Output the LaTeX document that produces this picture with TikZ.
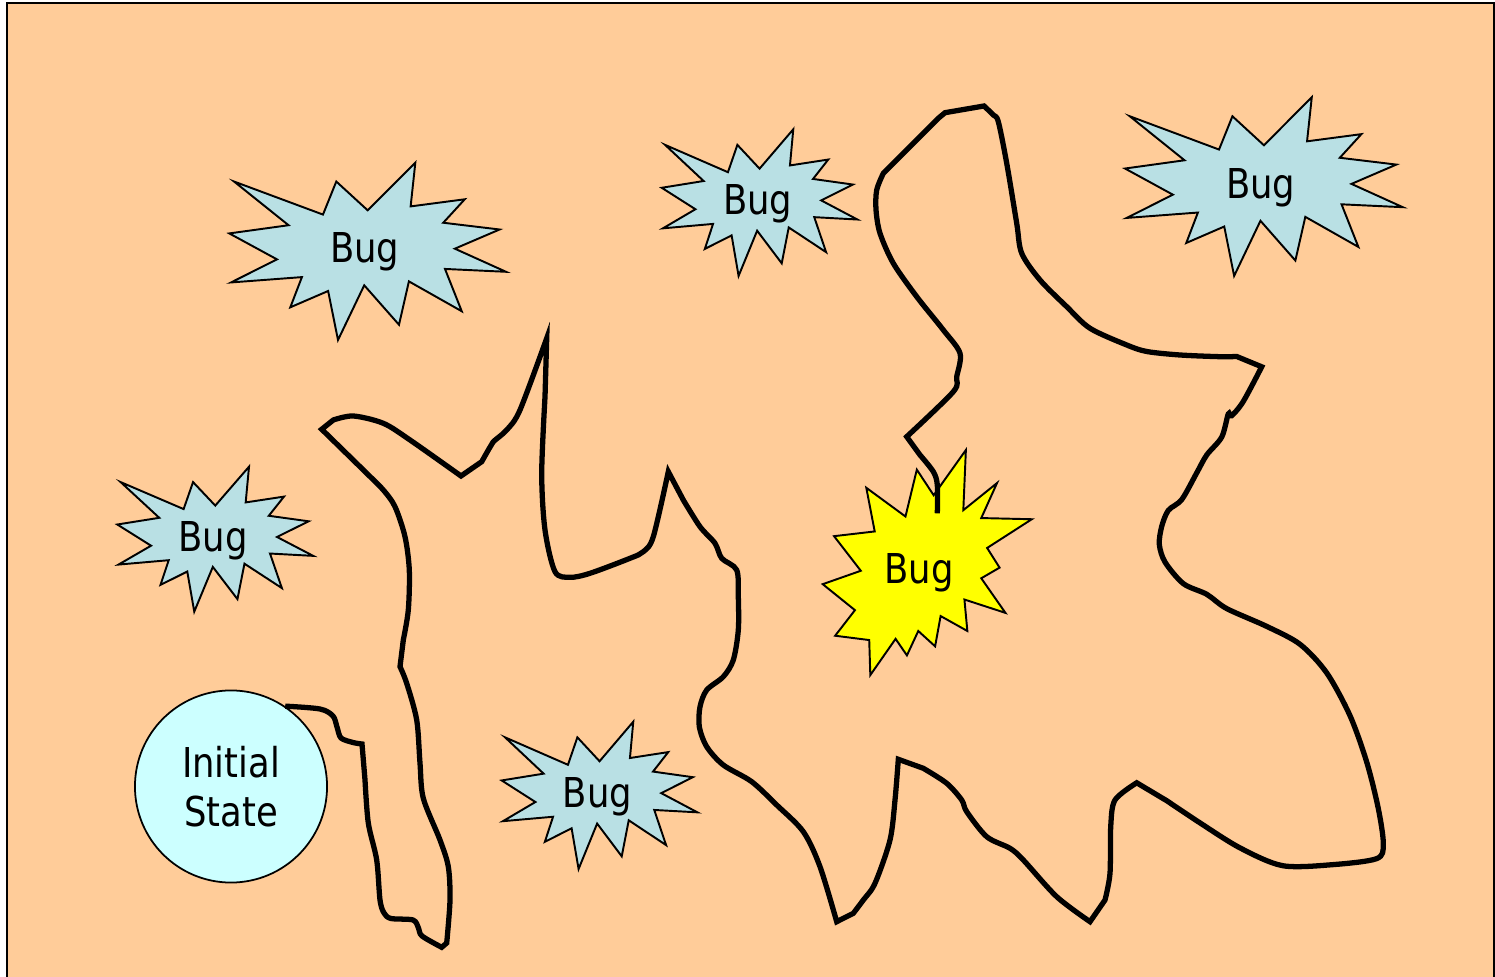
\documentclass[tikz,border=0pt]{standalone}
\usepackage{fontspec}
\setmainfont{DejaVu Sans}[FakeStretch=0.86]
\definecolor{peach}{HTML}{FFCC99}
\definecolor{bugblue}{HTML}{B9E0E4}
\definecolor{startcyan}{HTML}{CCFFFF}
\definecolor{hotbug}{HTML}{FFFF00}

\tikzset{
  sealone/.pic={\filldraw[bug] (108,58) -- (145.22,0) -- (141.55,53.25) -- (183.80,44.57) -- (167.02,73.15)
    -- (210.97,81.37) -- (176.07,104.75) -- (216,132.90) -- (168.37,129.42) -- (181.45,180.95)
    -- (140.20,144.57) -- (132.47,197.37) -- (105.32,149.35) -- (84.85,216) -- (77.15,156.27)
    -- (47.62,176.17) -- (56.67,139.37) -- (1.35,145.87) -- (37.22,117.75) -- (0,86.15)
    -- (46.27,76.17) -- (3.70,22.95) -- (73.12,63.20) -- (83.52,22.95) -- cycle;},
  sealtwo/.pic={\filldraw[bug, fill=hotbug] (114.62,43.42) -- (147.90,0) -- (145.25,57.77) -- (180.07,31.72)
    -- (163.80,65.32) -- (216,66.45) -- (169.85,94.02) -- (182.70,112.90) -- (163.80,123.10)
    -- (188.77,156.32) -- (146.40,143.50) -- (149.42,173.70) -- (121.80,159.35) -- (116.12,188.42)
    -- (98.72,173.70) -- (87,197.12) -- (75.27,181.25) -- (49.17,216) -- (48.05,182.40)
    -- (12.85,178.25) -- (33.30,153.70) -- (0,128.77) -- (39.35,115.92) -- (11.72,82.70)
    -- (53.72,78.17) -- (45.02,36.25) -- (85.50,63.82) -- (97.22,18.87) -- cycle;}
}

\begin{document}
\begin{tikzpicture}[x=0.01cm, y=-0.01cm,
    bug/.style={draw=black, fill=bugblue, line width=0.55pt, line join=miter},
    buglabel/.style={font=\fontsize{11.7}{14.1}\selectfont, inner sep=0pt, anchor=base},
    start/.style={circle, draw=black, fill=startcyan, line width=0.5pt, minimum size=1.92cm,
      inner sep=0pt, align=center, font=\fontsize{11.7}{14.1}\selectfont},
    trail/.style={line width=1.5pt, line join=miter},
    smoothly/.style={smooth, tension=0.5}
]
\useasboundingbox (0,0) rectangle (1495,977);
\fill[peach] (7,3) rectangle (1494,977);
\draw[line width=0.4pt] (7,977) -- (7,3) -- (1494,3) -- (1494,977);

% bugs
\pic[xscale=1.281, yscale=0.821] at (229.3,162.7) {sealone};
\pic[xscale=0.906, yscale=0.679] at (661.7,129.3) {sealone};
\pic[xscale=0.907, yscale=0.671] at (117.3,466.7) {sealone};
\pic[xscale=1.286, yscale=0.827] at (1125,97.3) {sealone};
\pic[xscale=0.906, yscale=0.682] at (501.7,721.7) {sealone};
\pic[xscale=0.968, yscale=1.042] at (822.7,450) {sealtwo};

\node[buglabel] (bugA) at (364.7,262.7) {Bug};
\node[buglabel] (bugB) at (757.8,215) {Bug};
\node[buglabel] (bugC) at (213.3,551.7) {Bug};
\node[buglabel] (bugD) at (1260.8,198.3) {Bug};
\node[buglabel] (bugE) at (597.5,807.7) {Bug};
\node[buglabel] (found) at (919,583.3) {Bug};

\node[start] (init) at (231,786.5) {Initial\\State};
\coordinate (hit) at (937.3,513.3);

% search path
\draw[trail] plot[smoothly] coordinates {(init.56) (320,709) (333,716) (337,727) (341,738) (353,742.5) (362,744)}
  -- plot[smoothly] coordinates {(365,780) (368.3,823) (376.7,860) (380,900) (384,913) (391,918.5)
      (413,920) (418.5,928) (422,936) (441.7,947.3)}
  -- plot[smoothly] coordinates {(446.7,943) (450,900) (448.3,866.7) (440,840) (423.3,798.3)
      (420,763.3) (416.7,720) (406.7,683.3) (400,666.7)}
  -- plot[smoothly] coordinates {(403.3,640) (408.3,610) (409.3,570) (405,536.7) (395,506.7)
      (383.3,490) (366.7,473.3) (321.7,429.3)}
  -- plot[smoothly] coordinates {(333.3,420) (353.3,416) (383.3,423.3) (410,440) (461,476)}
  -- plot[smoothly] coordinates {(481.7,461.7) (489.3,448.3) (493.3,441.7) (506.7,430) (520,410)
      (546.7,338.3)}
  -- plot[smoothly] coordinates {(545,396.7) (541.7,473.3) (545,530) (555,571.7) (570,577.3)
      (590,573.3) (630,558.3) (643.3,551.7) (653.3,536.7) (668.3,471.7)}
  -- plot[smoothly] coordinates {(683.3,500) (700,526.7) (715,543.3) (721.7,558.3)
      (736.7,570) (738.3,596.7) (738.3,630) (733.3,660) (723.3,676.7) (706.7,690) (700,706.7)
      (699.3,726.7) (706.7,746.7) (723.3,765) (751.7,781.7) (776.7,805) (803.3,831.7) (820,866.7)
      (836.7,921.7)}
  -- plot[smoothly] coordinates {(853.3,913.3) (863.3,900) (875,883.3) (890,840) (895,800)
      (898.3,759.3)}
  -- plot[smoothly] coordinates {(923.3,768.3) (946.7,783.3) (961.7,800) (966.7,811.7)
      (986.7,836.7) (1010,848.3) (1023.3,860) (1056.7,896.7) (1090,921.7)}
  -- plot[smoothly] coordinates {(1105,900) (1110,873.3) (1110.7,826.7) (1115,800)
      (1136.7,782.8)}
  -- plot[smoothly] coordinates {(1166.7,800.7) (1200,822.9) (1240,847.9) (1282.7,865.7)
      (1333.3,864.6) (1376.7,858.6) (1383.3,844.3) (1378.3,808.6) (1366.7,762.1) (1350,715.7)
      (1326.7,672.9) (1300,644.3) (1266.7,626.4) (1226.7,608.6) (1206.7,594.3) (1183.3,583.6)
      (1165,562.1) (1159.3,544.3) (1161.7,526.4) (1168.3,510.4) (1181.7,499.6) (1196.7,472.9)
      (1206.7,455) (1221.7,437.1) (1228.3,413.9) (1231.7,415.7) (1243.3,401.4) (1261.7,366.8)}
  -- plot[smoothly] coordinates {(1236.7,356.5) (1220,356.7) (1180,355) (1146.7,351.5)
      (1126.7,345) (1090,328.3) (1066.7,306.7) (1040,280) (1021.7,253.3) (1016.7,223.3) (1006.7,163.3)
      (998.3,121.7) (993.3,115) (984,106)}
  -- (945,112.7) -- (938.3,118.3)
  -- plot[smoothly] coordinates {(883.3,173.3) (876.7,190) (876,210)
      (880,233.3) (893.3,263.3) (916.7,296.7) (943.3,330) (960,353.3) (956.7,376.7) (953.3,391.7)
      (906.7,436.7)}
  -- plot[smoothly] coordinates {(920,455) (933.3,471.7) (937.3,485) (hit)};
\end{tikzpicture}
\end{document}
